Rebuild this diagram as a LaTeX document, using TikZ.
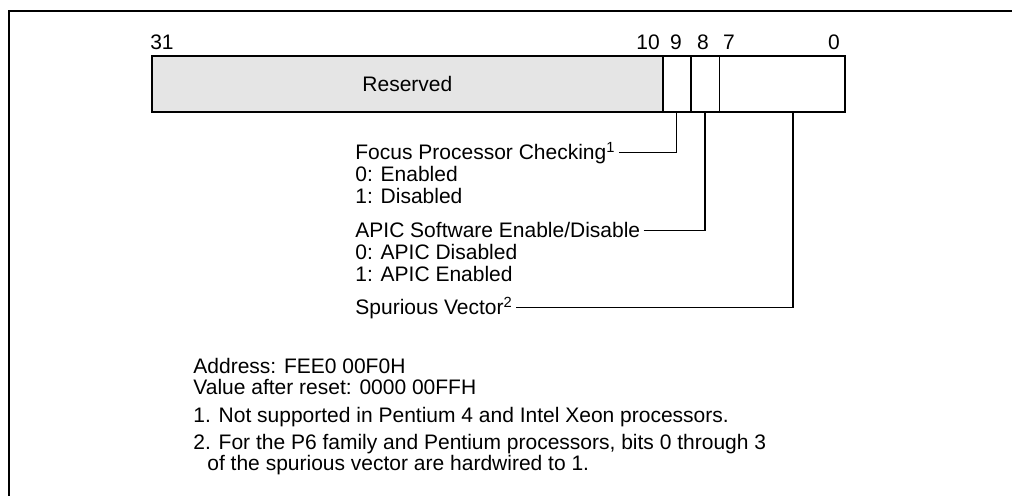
\documentclass[tikz,border=0pt]{standalone}
\usepackage{fontspec}
\setmainfont{Liberation Sans}
\usetikzlibrary{positioning}

\begin{document}
\begin{tikzpicture}[x=0.5pt,y=-0.5pt,
    every node/.style={font=\fontsize{10.5}{12.6}\selectfont, inner sep=0pt},
    field/.style={draw, line width=0.4pt, minimum height=27.5pt, anchor=north west},
    lbl/.style={anchor=base west},
    leader/.style={line width=0.7pt}]
\useasboundingbox (0,0) rectangle (1012,496);
\draw[line width=1pt] (9,496) -- (9,11) -- (1012,11);

% register fields
\node[field, fill=black!10, minimum width=255pt] (rsv) at (152,56) {};
\node[field, minimum width=13.5pt, right=0pt of rsv] (f9) {};
\node[field, minimum width=14pt, right=0pt of f9] (f8) {};
\node[field, minimum width=62.5pt, right=0pt of f8] (vec) {};
\draw[line width=0.8pt] (rsv.north west) rectangle (vec.south east);
\node at (rsv.center) {Reserved};

\foreach \b/\x in {31/162,10/648,9/676,8/703,7/729,0/834}
    \node[anchor=base] (bit\b) at (\x,50) {\b};

% field descriptions
\node[lbl] (focus) at (355,160) {Focus Processor Checking\textsuperscript{1}};
\node[lbl] (focusa) at (355,182) {0: Enabled};
\node[lbl] (focusb) at (355,204) {1: Disabled};
\node[lbl] (apic) at (355,238) {APIC Software Enable/Disable};
\node[lbl] (apica) at (355,260) {0: APIC Disabled};
\node[lbl] (apicb) at (355,282) {1: APIC Enabled};
\node[lbl] (spur) at (355,315) {Spurious Vector\textsuperscript{2}};

\draw[leader] ([xshift=1.5pt,yshift=3.6pt]focus.base east) -| (f9.south);
\draw[leader] ([xshift=1.5pt,yshift=3.6pt]apic.base east) -| (f8.south);
\draw[leader] ([xshift=1.5pt,yshift=3.6pt]spur.base east) -| ([xshift=5.25pt]vec.south);

% notes
\node[lbl] (addr) at (193,374) {Address: FEE0 00F0H};
\node[lbl] (reset) at (193,395) {Value after reset: 0000 00FFH};
\node[lbl] (note1) at (193,423) {1. Not supported in Pentium 4 and Intel Xeon processors.};
\node[lbl] (note2) at (193,450) {2. For the P6 family and Pentium processors, bits 0 through 3};
\node[lbl] (note2b) at (207,471) {of the spurious vector are hardwired to 1.};
\end{tikzpicture}
\end{document}
